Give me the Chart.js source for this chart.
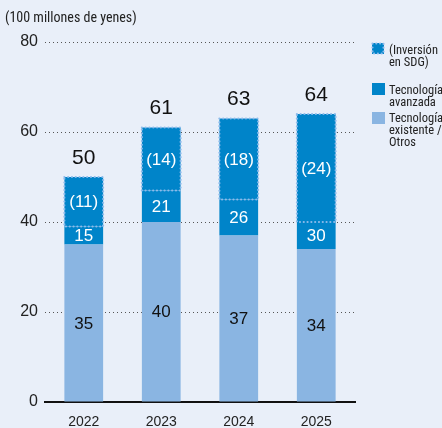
<!DOCTYPE html>
<html>
<head>
<meta charset="utf-8">
<script src="https://cdn.jsdelivr.net/npm/chart.js@4.4.1/dist/chart.umd.min.js"></script>
<style>
  html, body { margin:0; padding:0; background:#e9eff9; }
  #wrap { position:relative; width:442px; height:428px; overflow:hidden; }
  #c { position:absolute; left:0; top:0; }
  .t { position:absolute; font-family:"Liberation Sans Narrow","Roboto Condensed","Liberation Sans",sans-serif; color:#222; }
  #title { left:5px; top:9px; font-size:14px; }
  .leg { position:absolute; left:372px; font-family:"Liberation Sans Narrow","Roboto Condensed","Liberation Sans",sans-serif; font-size:12.5px; line-height:12px; color:#222; white-space:nowrap; }
  .sw { position:absolute; left:0; width:13px; height:12px; }
  .lt { position:absolute; left:17px; top:0; }
</style>
</head>
<body>
<div id="wrap">
  <canvas id="c" width="442" height="428"></canvas>
  <div class="t" id="title">(100 millones de yenes)</div>
  <div class="leg" style="top:43px;"><canvas class="sw" id="sdgsw" width="14" height="13" style="left:-1px;top:-1px;width:14px;height:13px"></canvas><div class="lt" style="top:1px">(Inversión<br>en SDG)</div></div>
  <div class="leg" style="top:83px;"><div class="sw" style="background:#0084c9"></div><div class="lt" style="top:1px">Tecnología<br>avanzada</div></div>
  <div class="leg" style="top:112px;"><div class="sw" style="background:#8ab5e2"></div><div class="lt" style="top:0px">Tecnología<br>existente /<br>Otros</div></div>
</div>
<script>
const years = ['2022', '2023', '2024', '2025'];
const existing = [35, 40, 37, 34];
const advanced = [15, 21, 26, 30];
const sdg = [11, 14, 18, 24];
const totals = [50, 61, 63, 64];
const yTicks = [0, 20, 40, 60, 80];

const DARK = '#0084c9', LIGHT = '#8ab5e2', DOT = '#8dbbeb';
const advRest = advanced.map((v, i) => v - sdg[i]);

function dottedRect(ctx, x0, y0, x1, y1) {
  ctx.save();
  ctx.strokeStyle = DOT;
  ctx.lineWidth = 2.2;
  ctx.lineCap = 'round';
  ctx.setLineDash([0, 3.8]);
  ctx.strokeRect(x0, y0, x1 - x0, y1 - y0);
  ctx.restore();
}

(function(){
  const c = document.getElementById('sdgsw').getContext('2d');
  c.fillStyle = DARK; c.fillRect(1,1,12,11);
  dottedRect(c, 1.5, 1.5, 12.5, 11.5);
})();

const labelPlugin = {
  id: 'labels',
  afterDatasetsDraw(chart) {
    const ctx = chart.ctx;
    const mL = chart.getDatasetMeta(0).data;
    const mD = chart.getDatasetMeta(1).data;
    const mS = chart.getDatasetMeta(2).data;
    ctx.save();
    mS.forEach(el => {
      const hw = el.width / 2;
      dottedRect(ctx, el.x - hw, el.y, el.x + hw, el.base);
    });
    ctx.textAlign = 'center';
    ctx.textBaseline = 'middle';
    ctx.font = '17px "Liberation Sans", Arial, sans-serif';
    mL.forEach((el, i) => {
      ctx.fillStyle = '#111';
      ctx.fillText(String(existing[i]), el.x, (el.y + el.base) / 2 + 1);
    });
    mD.forEach((el, i) => {
      ctx.fillStyle = '#fff';
      ctx.fillText(String(advanced[i]), el.x, (el.y + el.base) / 2 + 1);
    });
    mS.forEach((el, i) => {
      ctx.fillStyle = '#fff';
      ctx.fillText('(' + sdg[i] + ')', el.x, (el.y + el.base) / 2 + 1);
    });
    ctx.font = '21px "Liberation Sans", Arial, sans-serif';
    ctx.fillStyle = '#111';
    mS.forEach((el, i) => {
      ctx.fillText(String(totals[i]), el.x, el.y - 19);
    });
    ctx.restore();
  }
};

new Chart(document.getElementById('c'), {
  type: 'bar',
  data: {
    labels: years,
    datasets: [
      { data: existing, backgroundColor: LIGHT, stack: 's' },
      { data: advRest, backgroundColor: DARK, stack: 's' },
      { data: sdg, backgroundColor: DARK, stack: 's' }
    ]
  },
  options: {
    responsive: false,
    animation: false,
    events: [],
    layout: { padding: { left: 0, right: 87, top: 42, bottom: 0 } },
    plugins: { legend: { display: false }, tooltip: { enabled: false } },
    datasets: { bar: { categoryPercentage: 1, barPercentage: 0.5, borderWidth: 0 } },
    scales: {
      x: {
        stacked: true,
        afterFit(s) { s.height = 26; },
        grid: { display: false, drawTicks: false },
        border: { display: true, color: '#111', width: 2 },
        ticks: { color: '#222', padding: 12, font: { family: '"Liberation Sans", Arial, sans-serif', size: 14 } }
      },
      y: {
        stacked: true,
        min: 0, max: 80,
        afterFit(s) { s.width = 45; },
        afterBuildTicks(s) { s.ticks = yTicks.map(v => ({ value: v })); },
        grid: {
          drawTicks: false,
          color: c => c.tick && c.tick.value === 0 ? 'rgba(0,0,0,0)' : '#555',
          lineWidth: 1
        },
        border: { display: false, dash: [1, 3] },
        ticks: { color: '#222', padding: 7, font: { family: '"Liberation Sans", Arial, sans-serif', size: 16 } }
      }
    }
  },
  plugins: [labelPlugin]
});
</script>
</body>
</html>
